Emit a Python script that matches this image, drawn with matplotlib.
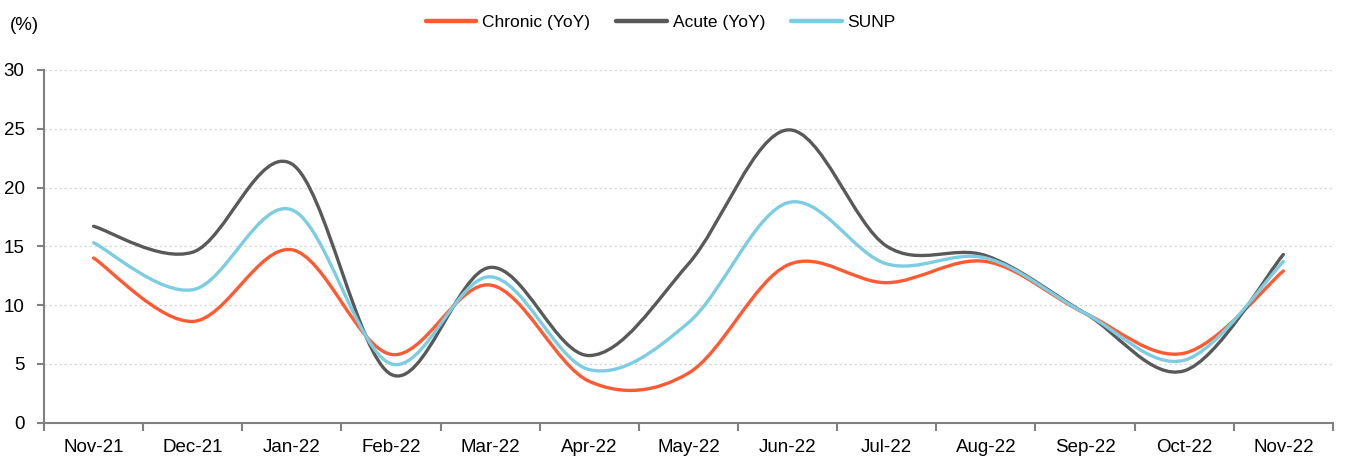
import numpy as np
from matplotlib import pyplot as plt
from matplotlib.path import Path
from matplotlib.patches import PathPatch
from matplotlib.lines import Line2D

months = ["Nov-21", "Dec-21", "Jan-22", "Feb-22", "Mar-22", "Apr-22", "May-22",
          "Jun-22", "Jul-22", "Aug-22", "Sep-22", "Oct-22", "Nov-22"]
chronic = [14.0, 8.6, 14.7, 5.8, 11.7, 3.5, 4.2, 13.4, 11.9, 13.7, 9.3, 5.9, 12.9]
acute = [16.7, 14.5, 22.0, 4.1, 13.2, 5.7, 13.5, 24.9, 15.0, 14.2, 9.3, 4.4, 14.3]
sunp = [15.3, 11.3, 18.1, 5.0, 12.4, 4.5, 8.5, 18.7, 13.5, 14.0, 9.3, 5.3, 13.7]

COLORS = {"chronic": "#FF5A32", "acute": "#595959", "sunp": "#7CCDE2"}

plt.rcParams["font.family"] = ["Liberation Sans", "DejaVu Sans"]
plt.rcParams["font.size"] = 13.5


def smooth_path(y):
    # Excel-like smoothed line: cubic Bezier through every point
    x = np.arange(len(y), dtype=float)
    pts = np.column_stack([x, np.asarray(y, dtype=float)])
    ext = np.vstack([pts[0], pts, pts[-1]])
    verts = [pts[0]]
    codes = [Path.MOVETO]
    for i in range(len(pts) - 1):
        p0, p1, p2, p3 = ext[i], ext[i + 1], ext[i + 2], ext[i + 3]
        c1 = p1 + (p2 - p0) / 6.0
        c2 = p2 - (p3 - p1) / 6.0
        verts += [c1, c2, p2]
        codes += [Path.CURVE4] * 3
    return Path(verts, codes)


fig = plt.figure(figsize=(13.46, 4.59), dpi=100)
ax = fig.add_axes([0.0327, 0.0795, 0.9576, 0.768])

series = [("Chronic (YoY)", chronic, COLORS["chronic"]),
          ("Acute (YoY)", acute, COLORS["acute"]),
          ("SUNP", sunp, COLORS["sunp"])]

handles = []
for name, vals, col in series:
    patch = PathPatch(smooth_path(vals), fill=False, edgecolor=col, lw=2.4,
                      capstyle="round", joinstyle="round", zorder=3)
    ax.add_patch(patch)
    handles.append(Line2D([], [], color=col, lw=3.2, label=name,
                          solid_capstyle="round"))

ax.set_xlim(-0.5, len(months) - 0.5)
ax.set_ylim(0, 30)
ax.set_yticks(np.arange(0, 31, 5))
ax.set_xticks(np.arange(len(months)))
ax.set_xticklabels(months)
ax.set_xticks(np.arange(len(months) + 1) - 0.5, minor=True)

ax.grid(axis="y", color="#d9d9d9", linestyle=(0, (2, 2)), lw=0.9)
ax.set_axisbelow(True)

for s in ["top", "right"]:
    ax.spines[s].set_visible(False)
for s in ["left", "bottom"]:
    ax.spines[s].set_color("#808080")
    ax.spines[s].set_linewidth(1.5)

ax.tick_params(axis="x", which="major", length=0, pad=12)
ax.tick_params(axis="x", which="minor", length=6, width=1.5, color="#808080")
ax.tick_params(axis="y", length=5, width=1.5, color="#808080", pad=9)

fig.text(0.0075, 0.945, "(%)", ha="left", va="center")

fig.legend(handles=handles, loc="center", bbox_to_anchor=(0.491, 0.952), ncol=3,
           frameon=False, fontsize=12.5, handlelength=2.9, handletextpad=0.35,
           columnspacing=1.5)

plt.savefig("out.png", dpi=100)
